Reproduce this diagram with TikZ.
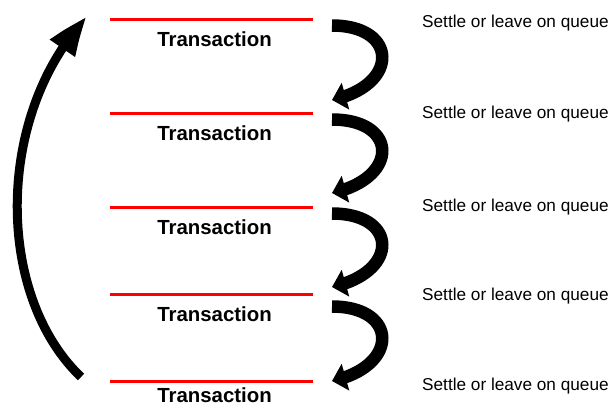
\documentclass[tikz,border=0pt]{standalone}
\usepackage{fontspec}
\setmainfont{Liberation Sans}
\usetikzlibrary{arrows.meta,bending}

\tikzset{
  redline/.style={red, line width=3pt},
  trans/.style={font=\fontsize{20.4}{24}\selectfont\bfseries, anchor=base, inner sep=0pt},
  settle/.style={font=\fontsize{17.2}{20}\selectfont, anchor=base west, inner sep=0pt},
  hop/.style={line width=12.5pt, -{Triangle[length=14pt,width=27pt]}},
  loopback/.style={line width=9pt, -{Triangle[length=40pt,width=28pt,bend]}}
}

\begin{document}
\begin{tikzpicture}[x=1pt,y=-1pt]
    \useasboundingbox (0,0) rectangle (612,407);
    % Draw the red transaction lines
    \draw[redline] (110,19) -- (313,19);
    \draw[redline] (110,113) -- (313,113);
    \draw[redline] (110,207) -- (313,207);
    \draw[redline] (110,294) -- (313,294);
    \draw[redline] (110,381) -- (313,381);
    % Label the transactions
    \node[trans] (t1) at (214.5,46) {Transaction};
    \node[trans] (t2) at (214.5,140) {Transaction};
    \node[trans] (t3) at (214.5,234) {Transaction};
    \node[trans] (t4) at (214.5,321) {Transaction};
    \node[trans] (t5) at (214.5,402.5) {Transaction};
    % Label the queue decisions
    \node[settle] (s1) at (422,27) {Settle or leave on queue};
    \node[settle] (s2) at (422,118) {Settle or leave on queue};
    \node[settle] (s3) at (422,211) {Settle or leave on queue};
    \node[settle] (s4) at (422,300) {Settle or leave on queue};
    \node[settle] (s5) at (422,390) {Settle or leave on queue};
    % Ends of the arrows
    \coordinate (h1) at (332,25.5); \coordinate (g1) at (332,100);
    \coordinate (h2) at (332,119.5); \coordinate (g2) at (332,193);
    \coordinate (h3) at (332,213.5); \coordinate (g3) at (332,287);
    \coordinate (h4) at (332,306.5); \coordinate (g4) at (332,381);
    % Draw the arrows from one transaction to the next
    \draw[hop] (h1) .. controls +(66,0) and +(68,-15) .. (g1);
    \draw[hop] (h2) .. controls +(66,0) and +(68,-15) .. (g2);
    \draw[hop] (h3) .. controls +(66,0) and +(68,-15) .. (g3);
    \draw[hop] (h4) .. controls +(66,0) and +(68,-15) .. (g4);
    % Draw the arrow back to the top
    \coordinate (back) at (81,377);
    \coordinate (top) at (87,17);
    \draw[loopback] (back) .. controls +(-86,-82) and +(-92,98) .. (top);
\end{tikzpicture}
\end{document}
